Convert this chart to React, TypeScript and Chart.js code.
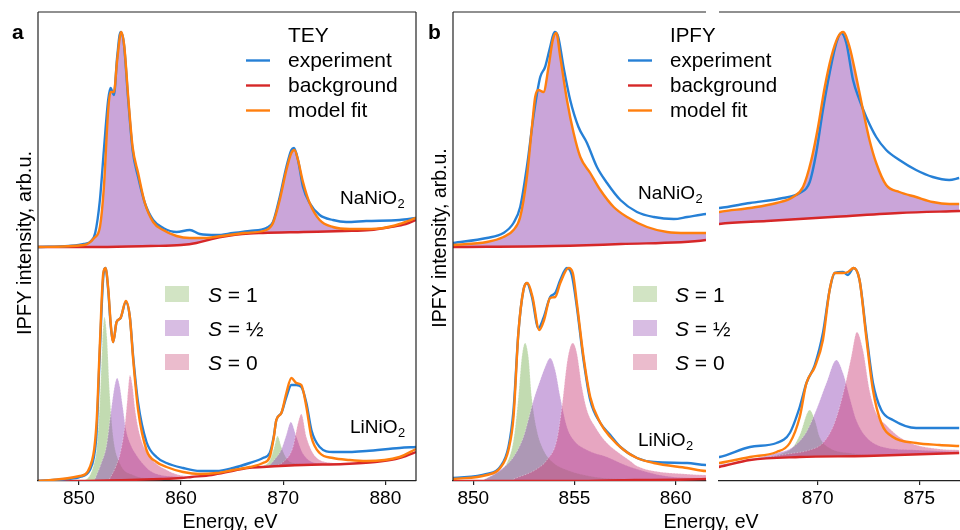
import React, { useEffect, useRef } from "react";
import { Chart, registerables } from "chart.js";
Chart.register(...registerables);

type Pt = [number, number];

// ---------------- Panel a (TEY) ----------------
const aTopBg: Pt[] = [[846,2.34],[852,2.34],[857,2.35],[860,2.36],[861.5,2.38],[863,2.42],[864.5,2.45],[866,2.47],[868,2.48],[872,2.49],[876,2.5],[878.5,2.51],[880.5,2.54],[882,2.57],[883,2.61]];
const aTopExp: Pt[] = [[846,2.34],[849,2.35],[850.5,2.37],[851.2,2.4],[851.6,2.48],[852.06,2.81],[852.45,3.31],[852.87,3.81],[853.1,3.93],[853.43,3.86],[853.75,4.24],[854.08,4.49],[854.4,4.38],[854.83,3.81],[855.26,3.31],[855.8,3.04],[856.46,2.78],[857.27,2.61],[858.25,2.53],[859.56,2.49],[860.86,2.51],[861.84,2.47],[863.47,2.46],[865.1,2.48],[866.72,2.5],[868.35,2.53],[869.0,2.59],[869.66,2.84],[870.31,3.14],[870.8,3.31],[871.06,3.33],[871.45,3.21],[871.94,2.94],[872.59,2.78],[873.57,2.66],[874.87,2.61],[876.17,2.59],[878.13,2.6],[881.39,2.61],[883,2.63]];
const aTopFit: Pt[] = [[846,2.34],[850.5,2.36],[851.5,2.43],[852.06,2.54],[852.45,2.94],[852.87,3.71],[853.1,3.89],[853.43,3.89],[853.75,4.21],[854.15,4.49],[854.45,4.34],[854.83,3.84],[855.26,3.34],[855.8,3.08],[856.46,2.78],[857.27,2.59],[858.25,2.51],[859.56,2.45],[860.86,2.43],[862.3,2.43],[864.0,2.45],[866.2,2.48],[868.35,2.51],[869.0,2.58],[869.66,2.81],[870.31,3.11],[870.8,3.28],[871.1,3.31],[871.45,3.21],[871.94,2.99],[872.59,2.78],[873.57,2.61],[874.87,2.54],[876.5,2.52],[878.13,2.52],[879.8,2.53],[881.39,2.57],[883,2.63]];
const aBotBg: Pt[] = [[846,0],[850,0],[855,0.01],[858,0.02],[860,0.03],[861,0.04],[863,0.06],[865,0.1],[866.5,0.13],[868,0.14],[872,0.16],[876,0.17],[879,0.19],[881,0.22],[882,0.25],[883,0.29]];
const aBotExp: Pt[] = [[846,0],[848.8,0.02],[850.1,0.04],[851.08,0.11],[851.47,0.24],[851.73,0.48],[852.06,1.31],[852.39,2.04],[852.61,2.13],[852.87,1.91],[853.13,1.54],[853.36,1.39],[853.69,1.59],[854.08,1.63],[854.6,1.79],[854.99,1.64],[855.32,1.24],[855.8,0.78],[856.62,0.39],[857.6,0.24],[858.58,0.18],[860.2,0.13],[861.84,0.1],[863.47,0.1],[865.1,0.13],[866.72,0.18],[868.02,0.23],[868.68,0.28],[869.07,0.44],[869.33,0.61],[869.82,0.68],[870.31,0.84],[870.8,0.96],[871.29,0.96],[871.78,0.94],[872.27,0.78],[872.76,0.51],[873.57,0.34],[874.87,0.29],[876.5,0.29],[878.13,0.3],[881.39,0.33],[883,0.34]];
const aBotFit: Pt[] = [[846,0],[850.1,0.05],[851.08,0.14],[851.73,0.58],[852.06,1.38],[852.39,2.08],[852.61,2.13],[852.87,1.93],[853.13,1.56],[853.36,1.39],[853.69,1.59],[854.08,1.63],[854.6,1.8],[854.99,1.64],[855.32,1.21],[855.8,0.71],[856.62,0.31],[857.6,0.19],[858.58,0.14],[860.2,0.09],[861.84,0.07],[863.47,0.08],[865.1,0.11],[866.72,0.14],[868.02,0.18],[868.68,0.24],[869.07,0.43],[869.33,0.61],[869.82,0.68],[870.31,0.88],[870.8,1.03],[871.29,0.98],[871.78,0.96],[872.27,0.74],[872.76,0.44],[873.57,0.28],[874.87,0.23],[876.5,0.21],[878.13,0.2],[881.39,0.24],[883,0.32]];
const aS1: Pt[] = [[850.5,0],[851.1,0.06],[851.5,0.18],[851.73,0.31],[852.06,0.81],[852.3,1.38],[852.5,1.64],[852.75,1.44],[853.0,0.91],[853.36,0.44],[854.0,0.18],[855.3,0.06],[857,0.03],[860,0.03],[863,0.06],[865,0.1],[866.5,0.13],[868,0.15],[868.7,0.21],[869.1,0.33],[869.45,0.45],[869.82,0.34],[870.3,0.23],[871,0.18],[873,0.17],[876,0.17]];
const aS12: Pt[] = [[851.5,0],[852.2,0.18],[852.7,0.35],[853.2,0.74],[853.5,0.95],[853.75,1.03],[854.0,0.95],[854.3,0.74],[854.6,0.52],[855.0,0.38],[855.5,0.28],[856.2,0.18],[857,0.1],[858.6,0.05],[861,0.04],[863,0.06],[865,0.1],[866.5,0.13],[868.5,0.15],[869.2,0.22],[869.8,0.31],[870.3,0.46],[870.75,0.59],[871.3,0.44],[871.9,0.28],[873.2,0.18],[874.9,0.17],[877,0.18]];
const aS0: Pt[] = [[853.0,0.02],[853.6,0.14],[854.1,0.3],[854.5,0.55],[854.75,0.82],[855.0,1.06],[855.25,0.95],[855.5,0.72],[856.0,0.45],[856.9,0.25],[858.6,0.11],[860.5,0.05],[862,0.05],[865,0.1],[866.5,0.13],[868,0.14],[869.0,0.15],[870.0,0.19],[870.96,0.34],[871.45,0.58],[871.78,0.67],[872.27,0.44],[873.2,0.24],[874.87,0.18],[876.5,0.17],[878,0.18]];

// ---------------- Panel b (IPFY) ----------------
const bTopBg: Pt[] = [[849,2.34],[854,2.35],[857.3,2.37],[861.5,2.41],[865.15,2.57],[867.5,2.6],[870.7,2.64],[874,2.68],[877,2.7]];
const bTopExp: Pt[] = [[849.0,2.38],[850.67,2.43],[851.49,2.48],[851.99,2.58],[852.32,2.74],[852.65,3.14],[853.0,3.68],[853.31,4.04],[853.55,4.14],[853.8,4.34],[854.02,4.49],[854.2,4.44],[854.46,4.14],[854.79,3.81],[855.2,3.54],[855.62,3.38],[856.11,3.14],[856.61,2.98],[857.27,2.81],[858.09,2.69],[858.92,2.64],[859.91,2.62],[860.57,2.64],[861.53,2.67],[865.17,2.73],[866.67,2.78],[868.3,2.83],[869.12,2.88],[869.61,2.99],[869.93,3.28],[870.26,3.71],[870.59,4.08],[870.92,4.38],[871.16,4.48],[871.41,4.38],[871.74,4.01],[872.06,3.81],[872.39,3.64],[872.88,3.44],[873.37,3.31],[874.02,3.21],[874.84,3.11],[875.66,3.04],[876.47,3.01],[876.96,3.03]];
const bTopFit: Pt[] = [[849.0,2.36],[850.67,2.39],[851.49,2.44],[851.99,2.51],[852.32,2.64],[852.65,3.04],[852.9,3.54],[853.06,3.84],[853.22,3.91],[853.47,3.89],[853.72,4.14],[853.93,4.41],[854.1,4.48],[854.3,4.24],[854.63,3.81],[854.96,3.48],[855.29,3.24],[855.78,3.08],[856.28,2.91],[856.94,2.74],[857.6,2.64],[858.59,2.54],[859.58,2.49],[860.57,2.48],[861.53,2.48],[865.17,2.69],[866.67,2.73],[867.98,2.78],[868.79,2.84],[869.28,2.94],[869.69,3.21],[870.02,3.54],[870.35,3.94],[870.67,4.24],[871.0,4.44],[871.25,4.49],[871.57,4.34],[871.9,4.04],[872.23,3.71],[872.55,3.41],[872.88,3.18],[873.37,2.96],[874.02,2.89],[874.84,2.84],[875.66,2.79],[876.47,2.77],[876.96,2.77]];
const bBotBg: Pt[] = [[849,0],[855,0],[858,0.01],[861.5,0.02],[865.15,0.14],[866.67,0.21],[869.12,0.24],[872.39,0.25],[876.96,0.28]];
const bBotExp: Pt[] = [[849.0,0.03],[850.67,0.07],[851.33,0.14],[851.74,0.34],[851.99,0.71],[852.23,1.48],[852.48,1.91],[852.65,1.98],[852.9,1.84],[853.22,1.53],[853.47,1.63],[853.8,1.84],[854.05,1.88],[854.3,2.01],[854.63,2.13],[854.87,2.06],[855.12,1.74],[855.45,1.21],[855.78,0.81],[856.28,0.58],[856.77,0.46],[857.27,0.34],[858.09,0.23],[858.92,0.19],[860.57,0.18],[861.53,0.16],[865.17,0.24],[866.67,0.34],[867.98,0.38],[868.63,0.48],[869.12,0.74],[869.45,0.98],[869.86,1.16],[870.26,1.48],[870.59,1.91],[870.84,2.08],[871.25,2.09],[871.49,2.06],[871.77,2.13],[872.06,2.01],[872.39,1.48],[872.72,0.98],[873.13,0.71],[873.7,0.61],[874.84,0.53],[875.98,0.53],[876.96,0.53]];
const bBotFit: Pt[] = [[849.0,0.02],[850.67,0.06],[851.33,0.13],[851.74,0.31],[851.99,0.64],[852.23,1.48],[852.48,1.91],[852.68,1.98],[852.93,1.84],[853.26,1.51],[853.5,1.61],[853.8,1.83],[854.05,1.84],[854.3,1.98],[854.71,2.13],[854.92,2.08],[855.12,1.78],[855.45,1.24],[855.78,0.84],[856.28,0.58],[856.77,0.44],[857.44,0.31],[858.09,0.23],[858.92,0.18],[860.57,0.13],[861.53,0.1],[865.17,0.18],[866.67,0.24],[867.98,0.29],[868.63,0.38],[869.12,0.64],[869.45,0.98],[869.86,1.14],[870.26,1.41],[870.59,1.91],[870.84,2.08],[871.25,2.08],[871.49,2.09],[871.77,2.13],[872.06,2.01],[872.39,1.44],[872.72,0.91],[873.13,0.58],[873.7,0.44],[874.84,0.38],[875.98,0.36],[876.96,0.35]];
const bS1: Pt[] = [[850.5,0.01],[851.16,0.08],[851.66,0.18],[851.99,0.41],[852.23,0.84],[852.4,1.24],[852.56,1.38],[852.73,1.24],[852.89,0.84],[853.14,0.51],[853.47,0.31],[853.97,0.18],[854.63,0.11],[856,0.04],[858,0.02],[861.5,0.02],[865.15,0.15],[867.5,0.24],[868.3,0.28],[868.79,0.34],[869.12,0.46],[869.61,0.71],[869.86,0.61],[870.1,0.44],[870.59,0.33],[871.57,0.28],[873,0.26],[877,0.28]];
const bS12: Pt[] = [[850.5,0.01],[851.33,0.11],[851.99,0.24],[852.48,0.44],[852.81,0.68],[852.98,0.81],[853.31,1.01],[853.55,1.14],[853.8,1.23],[854.05,1.11],[854.3,0.84],[854.63,0.54],[854.96,0.41],[855.62,0.31],[856.61,0.24],[857.76,0.14],[859.5,0.05],[861.5,0.03],[865.15,0.16],[867.98,0.28],[868.79,0.34],[869.45,0.49],[869.93,0.71],[870.43,0.98],[870.92,1.21],[871.25,1.08],[871.57,0.84],[871.9,0.61],[872.39,0.44],[873.21,0.34],[874.84,0.31],[876.96,0.29]];
const bS0: Pt[] = [[852.0,0.02],[853.14,0.12],[853.64,0.21],[854.13,0.41],[854.38,0.74],[854.63,1.18],[854.79,1.34],[854.92,1.38],[855.12,1.28],[855.37,0.94],[855.62,0.71],[856.03,0.54],[856.61,0.38],[857.27,0.27],[857.76,0.2],[858.09,0.15],[858.92,0.1],[860.5,0.07],[861.53,0.06],[865.15,0.16],[868.5,0.27],[869.61,0.31],[870.26,0.38],[870.75,0.54],[871.08,0.74],[871.41,1.01],[871.65,1.24],[871.93,1.49],[872.23,1.31],[872.55,0.91],[872.88,0.68],[873.37,0.56],[874.02,0.44],[874.84,0.36],[875.98,0.32],[876.96,0.31]];

// ---------------- ticks & labels ----------------
const aTicks = [850, 860, 870, 880];
const bTicksLeft = [850, 855, 860];
const bTicksRight = [870, 875];
const legendLines = ["experiment", "background", "model fit"];
const spinLabels = ["1", "\u00BD", "0"];

const W = 960;
const H = 530;
const FONT = '"Liberation Sans", Arial, Helvetica, sans-serif';
const BLUE = "#2680d6";
const ORANGE = "#ff7f0e";
const RED = "#d62728";
const FILL_TOP = "rgba(150,75,180,0.5)";
const C_S1 = "rgba(110,170,70,0.42)";
const C_S12 = "rgba(150,80,185,0.48)";
const C_S0 = "rgba(205,70,125,0.48)";
const SW_S1 = "#d2e4c4";
const SW_S12 = "#d8bde3";
const SW_S0 = "#ebbccd";
const EDGE = "rgba(255,255,255,0.35)";
const SPINE = "#222";

const toXY = (a: Pt[]) => a.map(([x, y]) => ({ x, y }));

function line(data: Pt[], color: string, order: number, width = 2.4) {
  return {
    data: toXY(data), borderColor: color, borderWidth: width, pointRadius: 0,
    fill: false, order, cubicInterpolationMode: "monotone",
  };
}
function area(data: Pt[], target: number, color: string, order: number, edge?: string) {
  return {
    data: toXY(data), borderColor: edge || "rgba(0,0,0,0)", borderWidth: edge ? 1 : 0,
    borderDash: [1.5, 1.5], backgroundColor: color, pointRadius: 0,
    fill: { target }, order, cubicInterpolationMode: "monotone",
  };
}

function buildDatasets(topBg: Pt[], topExp: Pt[], topFit: Pt[], botBg: Pt[], s1: Pt[], s12: Pt[], s0: Pt[], botExp: Pt[], botFit: Pt[]) {
  return [
    line(topBg, RED, 2),
    area(topFit, 0, FILL_TOP, 10),
    line(topExp, BLUE, 1),
    line(topFit, ORANGE, 0),
    line(botBg, RED, 2),
    area(s1, 4, C_S1, 9, EDGE),
    area(s12, 4, C_S12, 8, EDGE),
    area(s0, 4, C_S0, 7, EDGE),
    line(botExp, BLUE, 1),
    line(botFit, ORANGE, 0),
  ];
}

function txt(ctx: CanvasRenderingContext2D, s: string, x: number, y: number, size: number, o: { style?: string; weight?: string; align?: CanvasTextAlign } = {}) {
  ctx.font = `${o.style || "normal"} ${o.weight || "normal"} ${size}px ${FONT}`;
  ctx.textAlign = o.align || "left";
  ctx.textBaseline = "alphabetic";
  ctx.fillStyle = "#000";
  ctx.fillText(s, x, y);
  return ctx.measureText(s).width;
}
function chem(ctx: CanvasRenderingContext2D, base: string, x: number, y: number, size: number) {
  const w = txt(ctx, base, x, y, size);
  txt(ctx, "2", x + w + 0.5, y + 4, size * 0.68);
}
function hline(ctx: CanvasRenderingContext2D, x0: number, x1: number, y: number, color = SPINE, w = 1.2) {
  ctx.strokeStyle = color; ctx.lineWidth = w; ctx.setLineDash([]);
  ctx.beginPath(); ctx.moveTo(x0, y); ctx.lineTo(x1, y); ctx.stroke();
}
function vline(ctx: CanvasRenderingContext2D, x: number, y0: number, y1: number) {
  ctx.strokeStyle = SPINE; ctx.lineWidth = 1.2; ctx.setLineDash([]);
  ctx.beginPath(); ctx.moveTo(x, y0); ctx.lineTo(x, y1); ctx.stroke();
}
function legendBlock(ctx: CanvasRenderingContext2D, title: string, xh: number, xt: number, size: number) {
  txt(ctx, title, xt, 42, size);
  const cols = [BLUE, RED, ORANGE];
  legendLines.forEach((t, i) => {
    const yb = 67 + 25 * i;
    hline(ctx, xh, xh + 24, yb - 6.5, cols[i], 2.4);
    txt(ctx, t, xt, yb, size);
  });
}
function spinLegend(ctx: CanvasRenderingContext2D, xs: number, xt: number, size: number) {
  const cols = [SW_S1, SW_S12, SW_S0];
  spinLabels.forEach((v, i) => {
    const yb = 302 + 34 * i;
    ctx.fillStyle = cols[i];
    ctx.fillRect(xs, yb - 16, 24, 16);
    const w = txt(ctx, "S", xt, yb, size, { style: "italic" });
    txt(ctx, " = " + v, xt + w, yb, size);
  });
}
function yLabel(ctx: CanvasRenderingContext2D, x: number, y: number, size: number) {
  ctx.save();
  ctx.translate(x, y);
  ctx.rotate(-Math.PI / 2);
  txt(ctx, "IPFY intensity, arb.u.", 0, 0, size, { align: "center" });
  ctx.restore();
}

function makeConfig(datasets: any[], xmin: number, xmax: number, ticks: number[], padL: number, padR: number, decorate: (c: any) => void) {
  return {
    type: "line",
    data: { datasets },
    options: {
      responsive: false,
      animation: false,
      events: [],
      layout: { padding: { left: padL, right: padR, top: 12, bottom: 0 } },
      plugins: { legend: { display: false }, tooltip: { enabled: false } },
      scales: {
        x: {
          type: "linear", min: xmin, max: xmax,
          afterBuildTicks: (s: any) => { s.ticks = ticks.map((v) => ({ value: v })); },
          afterFit: (s: any) => { s.height = 49; },
          ticks: { font: { family: FONT, size: 19 }, color: "#000", padding: 2, maxRotation: 0, autoSkip: false },
          grid: { display: true, drawOnChartArea: false, drawTicks: true, tickLength: 4, color: SPINE, lineWidth: 1.2 },
          border: { display: true, color: SPINE, width: 1.2 },
        },
        y: { type: "linear", min: 0, max: 4.69, display: false },
      },
    },
    plugins: [{ id: "decor", afterDraw: (c: any) => decorate(c) }],
  };
}

const aDatasets = () => buildDatasets(aTopBg, aTopExp, aTopFit, aBotBg, aS1, aS12, aS0, aBotExp, aBotFit);
const bDatasets = () => buildDatasets(bTopBg, bTopExp, bTopFit, bBotBg, bS1, bS12, bS0, bBotExp, bBotFit);

const configs = [
  () => makeConfig(aDatasets(), 846, 883, aTicks, 38, W - 416, (c) => {
    const ctx = c.ctx; const a = c.chartArea;
    vline(ctx, a.left, a.top, a.bottom); vline(ctx, a.right, a.top, a.bottom); hline(ctx, a.left, a.right, a.top);
    txt(ctx, "a", 12, 39, 21, { weight: "bold" });
    yLabel(ctx, 31, 243, 20);
    txt(ctx, "Energy, eV", 230, 528, 19.5, { align: "center" });
    legendBlock(ctx, "TEY", 246, 288, 21);
    spinLegend(ctx, 165, 208, 21);
    chem(ctx, "NaNiO", 340, 204, 19);
    chem(ctx, "LiNiO", 350, 433, 19);
  }),
  () => makeConfig(bDatasets(), 849, 861.5, bTicksLeft, 453, W - 706, (c) => {
    const ctx = c.ctx; const a = c.chartArea;
    vline(ctx, a.left, a.top, a.bottom); hline(ctx, a.left, a.right, a.top);
    txt(ctx, "b", 428, 39, 21, { weight: "bold" });
    yLabel(ctx, 446, 238, 19.5);
    txt(ctx, "Energy, eV", 711, 528, 19.5, { align: "center" });
    legendBlock(ctx, "IPFY", 628, 670, 20.5);
    spinLegend(ctx, 633, 675, 21);
    chem(ctx, "NaNiO", 638, 199, 19);
    chem(ctx, "LiNiO", 638, 446, 19);
  }),
  () => makeConfig(bDatasets(), 865.15, 877, bTicksRight, 719, 0, (c) => {
    const ctx = c.ctx; const a = c.chartArea;
    hline(ctx, a.left, a.right, a.top);
  }),
];

function Layer({ build }: { build: () => any }) {
  const ref = useRef<HTMLCanvasElement>(null);
  useEffect(() => {
    const chart = new Chart(ref.current as HTMLCanvasElement, build());
    return () => chart.destroy();
  }, [build]);
  return (
    <canvas ref={ref} width={W} height={H}
      style={{ position: "absolute", left: 0, top: 0, width: W, height: H, pointerEvents: "none" }} />
  );
}

export default function App() {
  return (
    <div style={{ position: "absolute", left: 0, top: 0, width: W, height: H, overflow: "hidden", background: "#fff" }}>
      {configs.map((b, i) => <Layer key={i} build={b} />)}
    </div>
  );
}
